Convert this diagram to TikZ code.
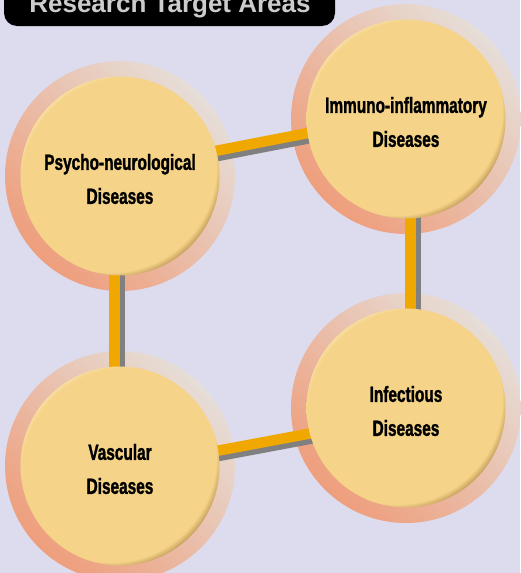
\documentclass[tikz,border=0pt]{standalone}
\usepackage{fontspec}
\setmainfont{Liberation Sans}
\newfontfamily\condfont[FakeStretch=0.70,FakeBold=1.3]{Liberation Sans}
\usetikzlibrary{calc,fadings}
\definecolor{bg}{RGB}{220,220,238}
\definecolor{btn}{RGB}{245,211,136}
\definecolor{btnlight}{RGB}{255,244,205}
\definecolor{btnmid}{RGB}{150,110,52}
\definecolor{btndark}{RGB}{55,38,12}
\definecolor{halolo}{RGB}{238,158,124}
\definecolor{halohi}{RGB}{230,222,216}
\definecolor{barorange}{RGB}{240,168,0}
\definecolor{bargray}{RGB}{128,128,128}
\definecolor{titlegray}{RGB}{204,204,204}
\pgfdeclareradialshading{button}{\pgfpoint{-5bp}{5bp}}{color(0bp)=(btn); color(26.5bp)=(btn); color(29.5bp)=(btnmid); color(31.5bp)=(btndark); color(50bp)=(btndark)}
\pgfdeclareradialshading{hlshade}{\pgfpoint{4bp}{-4bp}}{color(0bp)=(pgftransparent!100); color(26.5bp)=(pgftransparent!100); color(29.5bp)=(pgftransparent!0); color(50bp)=(pgftransparent!0)}
\pgfdeclarefading{hlfade}{\pgfuseshading{hlshade}}
\tikzset{
  halo/.style={circle, minimum size=230pt, inner sep=0pt, top color=halohi, bottom color=halolo, shading angle=-45},
  btnnode/.style={circle, minimum size=199pt, inner sep=0pt, shade, shading=button,
    postaction={fill=btnlight, path fading=hlfade}},
  btntext/.style={align=center, text=black, yshift=-3pt, inner sep=0pt,
    font=\condfont\bfseries\fontsize{22}{34}\selectfont},
  bar/.style={line width=10.5pt, draw=barorange},
  barshadow/.style={line width=10.5pt, draw=bargray, transform canvas={xshift=5pt, yshift=-4.5pt}},
}
\begin{document}
\begin{tikzpicture}[x=1pt, y=-1pt]
\useasboundingbox (0,0) rectangle (520,573);
\fill[bg] (0,0) rectangle (520,573);
% title
\fill[black, rounded corners=13pt] (4,-40) rectangle (335,26);
\node[anchor=base, inner sep=0pt, text=titlegray, font=\bfseries\fontsize{26}{26}\selectfont] (title) at (170,12) {Research Target Areas};
% centres
\coordinate (psy) at (120,176);
\coordinate (imm) at (406,119);
\coordinate (inf) at (406,408);
\coordinate (vas) at (120,466);
% halos
\node[halo] (psyH) at (psy) {};
\node[halo] (immH) at (imm) {};
\node[halo] (infH) at (inf) {};
\node[halo] (vasH) at (vas) {};
% connectors: shadows
\draw[barshadow] ($(psy)+(0,-6.5)$) -- ($(imm)+(0,-5)$);
\draw[barshadow] ($(imm)+(4.5,0)$) -- ($(inf)+(4.5,0)$);
\draw[barshadow] ($(psy)+(-5.5,0)$) -- ($(vas)+(-5.5,0)$);
\draw[barshadow] ($(vas)+(0,3)$) -- ($(inf)+(0,7.5)$);
% connectors
\draw[bar] ($(psy)+(0,-6.5)$) -- ($(imm)+(0,-5)$);
\draw[bar] ($(imm)+(4.5,0)$) -- ($(inf)+(4.5,0)$);
\draw[bar] ($(psy)+(-5.5,0)$) -- ($(vas)+(-5.5,0)$);
\draw[bar] ($(vas)+(0,3)$) -- ($(inf)+(0,7.5)$);
% buttons
\node[btnnode, label={[btntext, name=psyT]center:{Psycho-neurological\\Diseases}}] (psyB) at (psy) {};
\node[btnnode, label={[btntext, name=immT]center:{Immuno-inflammatory\\Diseases}}] (immB) at (imm) {};
\node[btnnode, label={[btntext, name=infT]center:{Infectious\\Diseases}}] (infB) at (inf) {};
\node[btnnode, label={[btntext, name=vasT]center:{Vascular\\Diseases}}] (vasB) at (vas) {};
\end{tikzpicture}
\end{document}
